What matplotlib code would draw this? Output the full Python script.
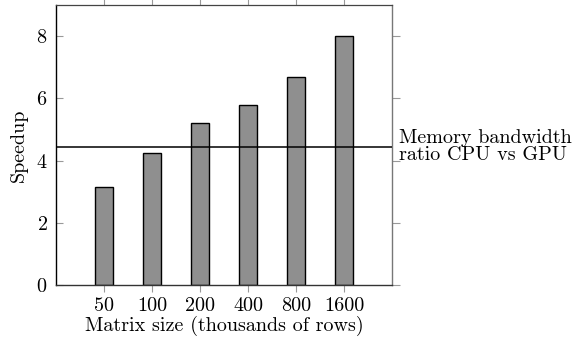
"""Speedup of the GPU solver over the CPU one, by matrix size."""
import matplotlib
matplotlib.use("Agg")
import matplotlib.pyplot as plt

sizes = ["50", "100", "200", "400", "800", "1600"]
speedup = [3.15, 4.25, 5.2, 5.8, 6.7, 8.0]
bandwidth_ratio = 4.45

plt.rcParams["font.family"] = ["cmr10", "DejaVu Serif"]
plt.rcParams["mathtext.fontset"] = "cm"
plt.rcParams["axes.formatter.use_mathtext"] = True

fig = plt.figure(figsize=(5.73, 3.40), dpi=100)
ax = fig.add_axes([56 / 573, 55 / 340, 336 / 573, 280 / 340])

pos = list(range(len(sizes)))
ax.bar(pos, speedup, width=0.36, color="#8f8f8f", edgecolor="black",
       linewidth=1.0, zorder=2)
ax.axhline(bandwidth_ratio, color="black", linewidth=1.1, zorder=3)

ax.set_xlim(-1, len(sizes))
ax.set_ylim(0, 9)
ax.set_xticks(pos)
ax.set_xticklabels(sizes)
ax.set_yticks([0, 2, 4, 6, 8])

fs = 14.5
ax.tick_params(axis="x", direction="out", top=True, bottom=True, length=5,
               width=0.8, color="#999999", labelsize=fs, pad=4)
ax.tick_params(axis="y", direction="in", left=True, right=False, length=5,
               width=0.8, color="#999999", labelsize=fs, pad=6)

# outward ticks on the right-hand side
sec = ax.secondary_yaxis("right")
sec.set_yticks([0, 2, 4, 6, 8])
sec.tick_params(direction="out", length=6, width=0.8, color="#999999",
                labelright=False)
sec.spines["right"].set_color("#777777")
sec.spines["right"].set_linewidth(1.0)

ax.spines["right"].set_visible(False)
ax.spines["top"].set_color("#444444")
ax.spines["top"].set_linewidth(0.9)
ax.spines["left"].set_linewidth(1.0)
ax.spines["bottom"].set_linewidth(1.0)
ax.spines["bottom"].set_color("#333333")

ax.set_xlabel("Matrix size (thousands of rows)", fontsize=fs, labelpad=0)
ax.set_ylabel("Speedup", fontsize=fs, labelpad=6)

ax.annotate("Memory bandwidth\nratio CPU vs GPU",
            xy=(1.0, bandwidth_ratio),
            xycoords=ax.get_yaxis_transform(),
            xytext=(5, 0), textcoords="offset points",
            ha="left", va="center", fontsize=fs, linespacing=0.95)

fig.savefig("out.png", dpi=100)
